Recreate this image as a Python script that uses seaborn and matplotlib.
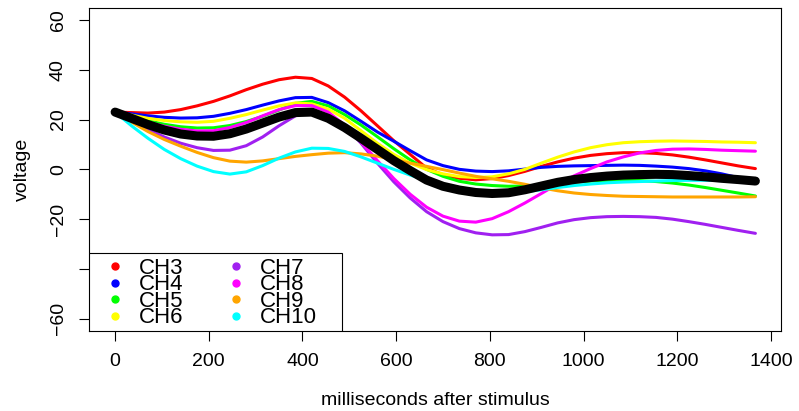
import numpy as np
import pandas as pd
import matplotlib
matplotlib.use('Agg')
import matplotlib.pyplot as plt
from matplotlib.lines import Line2D
from matplotlib.patches import Rectangle
import seaborn as sns

# values (every ~35 ms)
ms = [0, 35, 70, 105, 140, 175, 210, 245, 280, 315, 350, 385, 420, 455, 490, 525, 560, 595, 630, 665,
      700, 735, 770, 805, 840, 875, 910, 945, 980, 1015, 1050, 1085, 1120, 1155, 1190, 1225, 1260, 1295, 1330, 1367]
ch3 = [23, 22.8, 22.6, 23, 24, 25.5, 27.3, 29.5, 32, 34.2, 36, 37, 36.5, 33.5, 29, 23.5, 17.5, 11.5, 6, 0.5,
       -2.2, -3.6, -4.2, -3.7, -2.5, -0.8, 1.2, 3, 4.5, 5.6, 6.3, 6.7, 6.7, 6.4, 5.8, 4.9, 3.8, 2.6, 1.4, 0.3]
ch4 = [23, 22.3, 21.5, 20.9, 20.6, 20.7, 21.3, 22.5, 24, 25.8, 27.5, 28.8, 28.9, 26.8, 23.5, 19.3, 15, 11.3, 7.5, 3.8,
       1.5, 0, -0.7, -0.9, -0.6, 0.1, 0.8, 1.2, 1.4, 1.5, 1.6, 1.7, 1.6, 1.3, 0.9, 0.3, -0.6, -1.8, -3.3, -5]
ch5 = [23, 21.2, 19.5, 18.1, 17.1, 16.6, 16.7, 17.6, 19.2, 21.3, 23.8, 26.5, 27.3, 25.5, 22, 17.8, 13.1, 8.3, 3.8, 0,
       -2.8, -4.8, -5.9, -6.5, -6.8, -6.7, -6.3, -5.7, -5.1, -4.7, -4.5, -4.4, -4.5, -4.9, -5.5, -6.3, -7.3, -8.4, -9.5, -10.7]
ch6 = [23, 21.8, 20.5, 19.6, 19.1, 18.9, 19.3, 20.5, 22, 23.8, 25.5, 26.7, 26.3, 24.2, 20.5, 15.5, 10.5, 6, 2.5, -0.1,
       -1.8, -2.9, -3.3, -3, -1.8, 0, 2.5, 4.9, 7, 8.7, 9.9, 10.7, 11.1, 11.3, 11.4, 11.3, 11.2, 11, 10.9, 10.7]
ch7 = [23, 19.5, 16, 13, 10.5, 8.7, 7.6, 7.7, 9.5, 13, 17.5, 21.5, 23, 21.8, 17.5, 10.5, 2.5, -5, -11.5, -17,
       -21, -23.8, -25.5, -26.3, -26.2, -25, -23.3, -21.5, -20.2, -19.4, -19, -18.9, -19, -19.3, -20, -21, -22.1, -23.3, -24.5, -25.7]
ch8 = [23, 21, 18.9, 17.3, 16.1, 15.4, 15.5, 16.8, 18.8, 21.5, 24, 25.6, 25.6, 23, 17.8, 11, 3.5, -3.7, -10, -15.2,
       -18.8, -20.8, -21.2, -19.8, -17, -13.5, -9.7, -5.9, -2.6, 0.3, 3, 5, 6.6, 7.6, 8.1, 8.2, 8, 7.7, 7.5, 7.3]
ch9 = [23, 19, 15.2, 12, 9.3, 6.8, 4.7, 3.3, 2.9, 3.4, 4.3, 5.2, 5.9, 6.5, 6.7, 6.2, 5.3, 3.9, 2.5, 1.2,
       -0.1, -1.5, -2.8, -3.8, -4.8, -6, -7.4, -8.6, -9.5, -10.1, -10.5, -10.8, -10.9, -11, -11.1, -11.1, -11.1, -11.1, -11.1, -11]
ch10 = [23, 17.5, 12.5, 8, 4.3, 1.3, -0.9, -1.9, -1, 1.5, 4.5, 7, 8.5, 8.4, 7.2, 5, 2.5, 0, -2.3, -4.5,
        -6.3, -7.6, -8.6, -9.3, -9.5, -9, -8.2, -7.3, -6.5, -5.9, -5.4, -5.1, -4.9, -4.7, -4.5, -4.4, -4.4, -4.5, -4.7, -5]
mean_v = [23, 20.5, 18, 15.8, 14.2, 13.4, 13.3, 14.3, 16.2, 18.6, 21, 22.8, 23, 20.5, 16.8, 12.5, 8, 3.5, -0.5, -4.3,
          -6.8, -8.3, -9.3, -9.7, -9.4, -8.2, -6.7, -5.2, -4.1, -3.3, -2.7, -2.3, -2.1, -2, -2.1, -2.5, -3, -3.6, -4.1, -4.7]

channels = ['CH3', 'CH4', 'CH5', 'CH6', 'CH7', 'CH8', 'CH9', 'CH10']
colors = ['#FF0000', '#0000FF', '#00FF00', '#FFFF00', '#A020F0', '#FF00FF', '#FFA500', '#00FFFF']
yticks = [-60, -40, -20, 0, 20, 40, 60]
ytick_labels = ['\u221260', '', '\u221220', '0', '20', '40', '60']
xticks = [0, 200, 400, 600, 800, 1000, 1200, 1400]

long = pd.DataFrame({
    'ms': ms * len(channels),
    'voltage': ch3 + ch4 + ch5 + ch6 + ch7 + ch8 + ch9 + ch10,
    'channel': [c for c in channels for _ in ms],
})
avg = pd.DataFrame({'ms': ms, 'voltage': mean_v})

sns.set_style('ticks')
plt.rcParams['font.family'] = ['Liberation Sans', 'DejaVu Sans']
plt.rcParams['text.color'] = 'black'
plt.rcParams['axes.labelcolor'] = 'black'
plt.rcParams['xtick.color'] = 'black'
plt.rcParams['ytick.color'] = 'black'

fig = plt.figure(figsize=(7.99, 4.11), dpi=100)
ax = fig.add_axes([0.112, 0.1954, 0.8655, 0.7851])

sns.lineplot(data=long, x='ms', y='voltage', hue='channel', hue_order=channels,
             palette=colors, linewidth=2.2, legend=False, ax=ax, sort=False)
sns.lineplot(data=avg, x='ms', y='voltage', color='black', linewidth=6.5,
             ax=ax, sort=False, solid_capstyle='round')

ax.set_xlim(-54.7, 1421.7)
ax.set_ylim(-64.8, 64.8)
ax.set_xticks(xticks)
ax.set_xticklabels([str(t) for t in xticks])
ax.set_yticks(yticks)
ax.set_yticklabels(ytick_labels, rotation=90, va='center')
ax.tick_params(direction='out', length=7.2, width=0.8, labelsize=14, color='black', pad=9)
for s in ax.spines.values():
    s.set_linewidth(0.8)
    s.set_color('black')
ax.set_xlabel('milliseconds after stimulus', fontsize=14, labelpad=15.5)
ax.set_ylabel('voltage', fontsize=14, labelpad=14)

# legend box in the lower left corner, as in the reference
ax.add_patch(Rectangle((0, 0), 0.365, 0.2417, transform=ax.transAxes,
                       facecolor='white', edgecolor='black', linewidth=0.8, zorder=5))
handles = [Line2D([], [], linestyle='none', marker='o', markersize=5, color=c) for c in colors]
leg = ax.legend(handles, channels, loc='lower left', bbox_to_anchor=(0, 0), ncol=2,
                frameon=False, fontsize=16, borderaxespad=0, borderpad=0.1,
                labelspacing=-0.2, handlelength=2.1, handletextpad=0.04,
                columnspacing=1.29, numpoints=1)
leg.set_zorder(6)

fig.savefig('out.png', dpi=100)
